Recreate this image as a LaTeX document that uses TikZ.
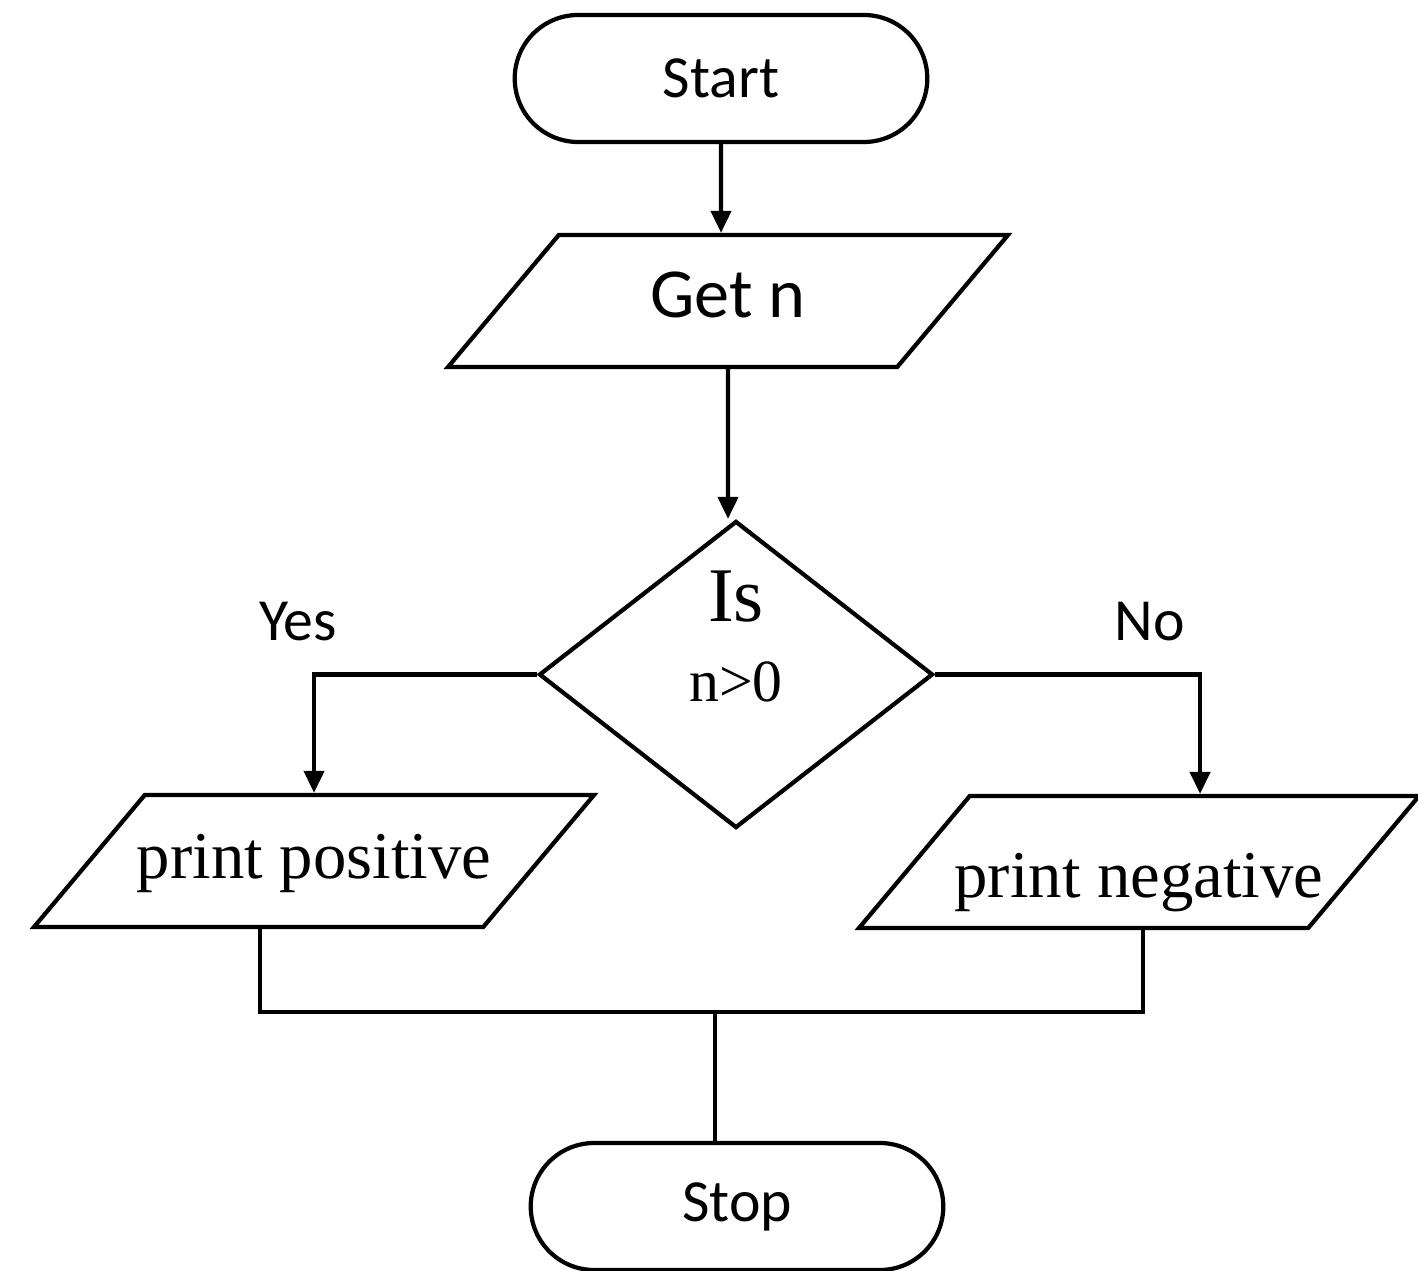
\documentclass[tikz,border=0pt]{standalone}
\usepackage{fontspec}
\setmainfont{Liberation Serif}
\newfontfamily\calfont{Carlito}
\usetikzlibrary{shapes.geometric,shapes.misc,arrows.meta}

\begin{document}
\begin{tikzpicture}[
    terminal/.style={rounded rectangle, draw, line width=1.2pt,
      minimum width=4.36cm, minimum height=1.27cm,
      font=\calfont\fontsize{17}{20}\selectfont},
    io/.style={trapezium, trapezium left angle=50, trapezium right angle=130,
      trapezium stretches body=true, draw, line width=1.2pt,
      inner xsep=-2mm, inner ysep=3.3mm, text height=5mm, text depth=1.6mm,
      minimum width=5.6cm, minimum height=1.32cm,
      font=\fontsize{19}{22}\selectfont},
    decision/.style={diamond, draw, line width=1.2pt, inner sep=0pt,
      minimum width=3.94cm, minimum height=3.07cm,
      font=\fontsize{20}{22.7}\selectfont},
    answer/.style={font=\calfont\fontsize{17}{20}\selectfont},
    connector/.style={line width=1.2pt},
    flowarrow/.style={connector, -{Triangle[length=2.2mm,width=2mm]}}
  ]
  \useasboundingbox (0,0) rectangle (14.18,12.70);

  \node[terminal] (start) at (7.21,11.915) {Start};
  \node[io] (getn) at (7.28,9.69) {\calfont\fontsize{20}{24}\selectfont Get n};
  \node[decision] (test) at (7.36,5.955)
       {\raisebox{3pt}[0pt][0pt]{\begin{tabular}{@{}c@{}}\fontsize{22}{26}\selectfont Is\\
        \fontsize{17}{20}\selectfont n>0\end{tabular}}};
  \node[io] (ppos) at (3.14,4.09) {print positive};
  \node[io, text height=8.5mm, text depth=1.5mm, inner ysep=1.6mm] (pneg) at (11.39,4.08) {print negative};
  \node[terminal] (stop) at (7.37,0.635) {Stop};

  \node[answer] (yes) at (2.98,6.48) {Yes};
  \node[answer] (no) at (11.50,6.48) {No};

  \coordinate (merge) at (7.15,2.58);

  \draw[flowarrow] (start) -- (start |- getn.north);
  \draw[flowarrow] (getn) -- (getn |- test.north);
  \draw[flowarrow] (test.west) -| (ppos.north);
  \draw[flowarrow] (test.east) -| ([xshift=6.1mm]pneg.north);
  \draw[connector] ([xshift=-5.4mm]ppos.south) |- (merge) -| ([xshift=0.4mm]pneg.south);
  \draw[connector] (merge) -- (merge |- stop.north);
\end{tikzpicture}
\end{document}
